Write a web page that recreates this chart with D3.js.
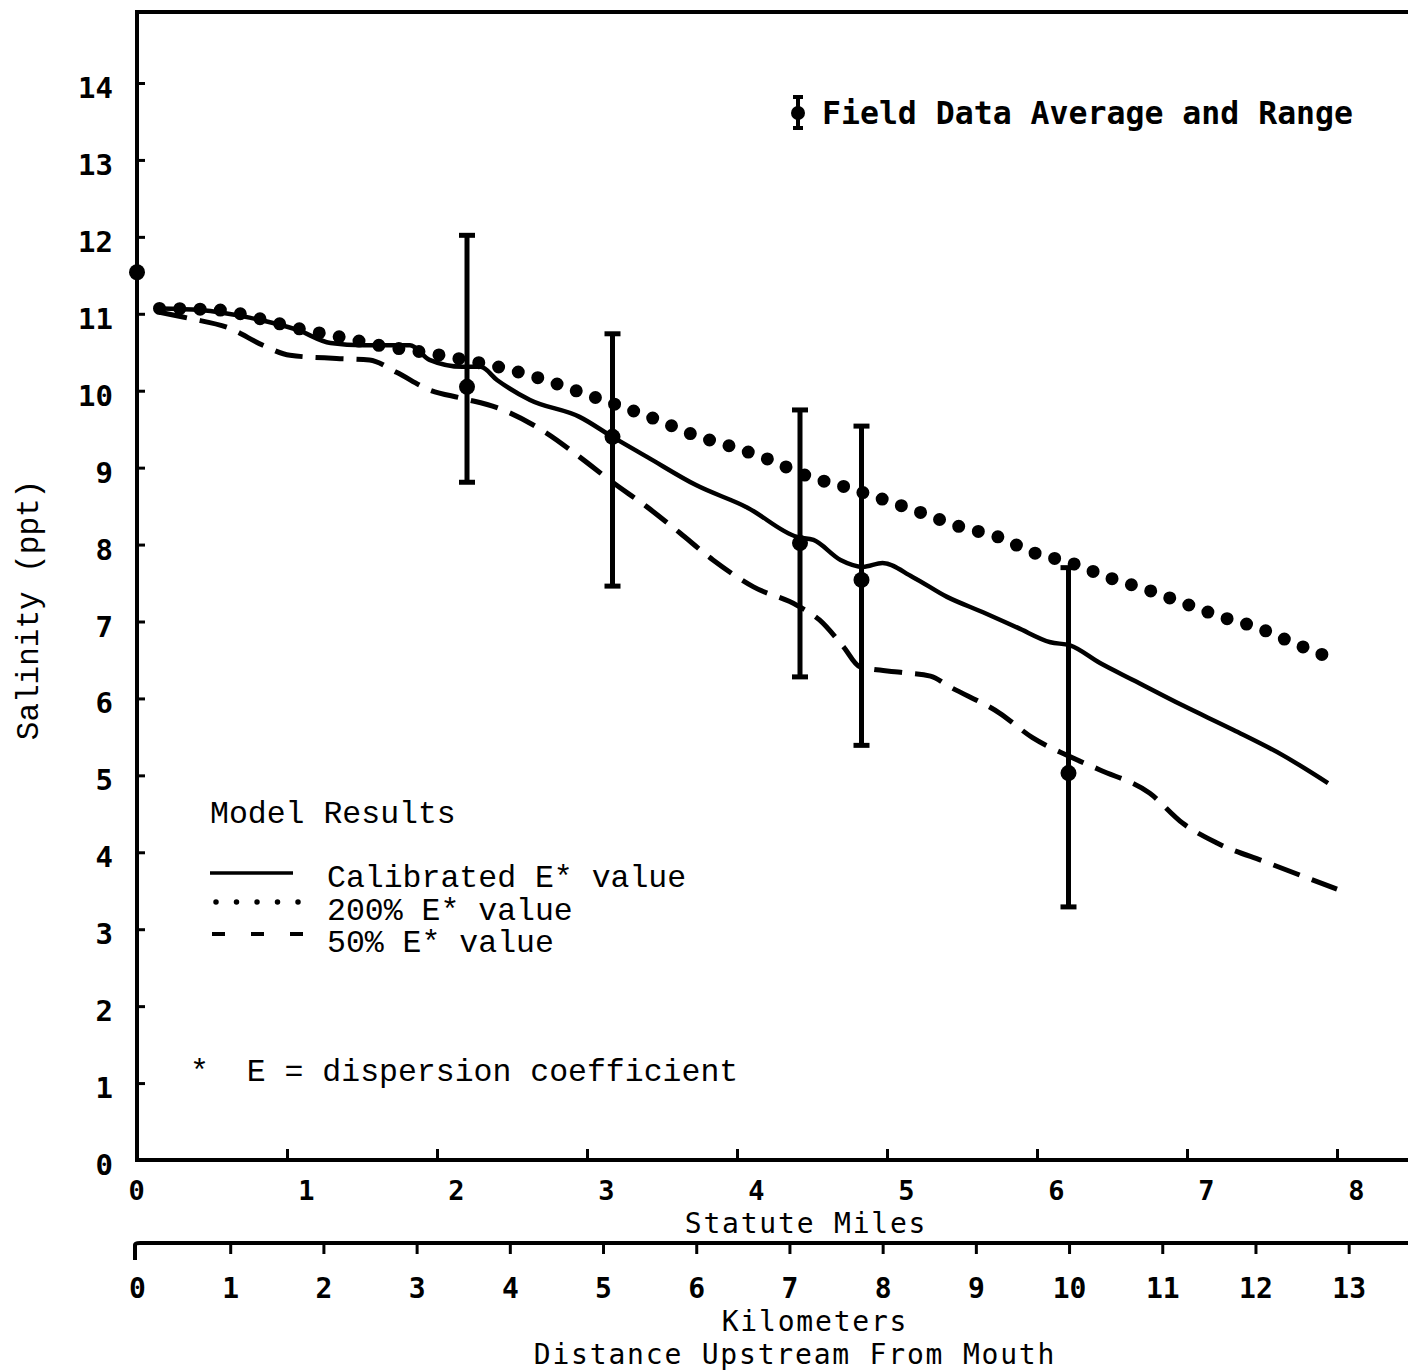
<!DOCTYPE html>
<html>
<head>
<meta charset="utf-8">
<script src="https://cdn.jsdelivr.net/npm/d3@7"></script>
<style>
  html, body { margin: 0; padding: 0; background: #fff; }
  svg { display: block; }
</style>
</head>
<body>
<svg id="chart" width="1408" height="1372"></svg>
<script>
// Salinity profile upstream from the river mouth (statute miles, ppt)

// Model results: calibrated dispersion coefficient
const calibratedMiles = [0.15, 0.42, 0.75, 1.07, 1.29, 1.51, 1.82, 1.95, 2.17, 2.29, 2.40, 2.62, 2.95, 3.17, 3.40, 3.73, 4.07, 4.40, 4.51, 4.69, 4.84, 4.97, 5.17, 5.40, 5.64, 5.87, 6.09, 6.22, 6.42, 6.64, 6.97, 7.31, 7.64, 7.94];
const calibratedSalinity = [11.07, 11.05, 10.95, 10.79, 10.62, 10.59, 10.59, 10.40, 10.31, 10.31, 10.14, 9.88, 9.66, 9.40, 9.14, 8.77, 8.48, 8.10, 8.06, 7.80, 7.71, 7.76, 7.58, 7.32, 7.12, 6.92, 6.73, 6.69, 6.46, 6.24, 5.91, 5.59, 5.26, 4.90];

// Model results: 200% of calibrated E
const doubleEMiles = [0.15, 0.54, 0.81, 1.07, 1.35, 1.64, 1.91, 2.19, 2.47, 2.72, 2.97, 3.22, 3.47, 3.72, 3.97, 4.22, 4.47, 4.72, 4.97, 5.22, 5.49, 5.74, 5.97, 6.23, 6.48, 6.74, 6.99, 7.23, 7.47, 7.71, 7.94];
const doubleESalinity = [11.07, 11.05, 10.94, 10.81, 10.70, 10.58, 10.50, 10.40, 10.28, 10.14, 9.97, 9.80, 9.62, 9.42, 9.27, 9.10, 8.89, 8.75, 8.59, 8.42, 8.23, 8.10, 7.90, 7.76, 7.57, 7.41, 7.23, 7.06, 6.92, 6.72, 6.54];

// Model results: 50% of calibrated E
const halfEMiles = [0.15, 0.35, 0.62, 0.84, 1.02, 1.33, 1.55, 1.73, 1.95, 2.17, 2.40, 2.73, 2.95, 3.17, 3.40, 3.62, 3.84, 4.11, 4.40, 4.55, 4.71, 4.82, 5.09, 5.29, 5.42, 5.75, 5.97, 6.20, 6.42, 6.75, 6.97, 7.20, 7.53, 8.00];
const halfESalinity = [11.02, 10.94, 10.81, 10.59, 10.46, 10.42, 10.40, 10.24, 10.01, 9.90, 9.78, 9.45, 9.14, 8.81, 8.49, 8.15, 7.80, 7.45, 7.21, 7.02, 6.67, 6.41, 6.34, 6.29, 6.15, 5.81, 5.49, 5.26, 5.07, 4.77, 4.38, 4.12, 3.87, 3.52];

// Field data: station average and observed range
const stationMiles = [0, 2.20, 3.17, 4.42, 4.83, 6.21];
const fieldAverage = [11.54, 10.05, 9.40, 8.02, 7.54, 5.03];
const fieldHigh = [null, 12.02, 10.74, 9.75, 9.54, 7.70];
const fieldLow = [null, 8.81, 7.46, 6.28, 5.39, 3.29];

// Axis ticks
const salinityTicks = [0, 1, 2, 3, 4, 5, 6, 7, 8, 9, 10, 11, 12, 13, 14];
const mileTicks = [0, 1, 2, 3, 4, 5, 6, 7, 8];
const kmTicks = [0, 1, 2, 3, 4, 5, 6, 7, 8, 9, 10, 11, 12, 13];

const KM_PER_MILE = 1.609344;

const svg = d3.select("#chart");
const W = 1408;

const x = d3.scaleLinear().domain([0, 8]).range([137, 1337]);
const xKm = d3.scaleLinear().domain([0, 8 * KM_PER_MILE]).range([137, 1337]);
const y = d3.scaleLinear().domain([0, 14]).range([1160, 83]);

const boldFont = "'DejaVu Sans Mono', monospace";
const typeFont = "'Liberation Mono', 'DejaVu Sans Mono', monospace";

// Frame: top border, left axis, two bottom scales
const frame = svg.append("g").attr("stroke", "#000").attr("fill", "none").attr("stroke-linecap", "square");
frame.append("path").attr("stroke-width", 4)
  .attr("d", `M${W},12 L137,12 L137,1160 L${W},1160`);
frame.append("path").attr("stroke-width", 4)
  .attr("d", `M135,1258 L135,1245 Q135,1243 140,1243 L${W},1243`);

// Salinity axis
const yAxis = svg.append("g")
  .attr("transform", "translate(137,0)")
  .call(d3.axisLeft(y).tickValues(salinityTicks).tickSize(-8).tickPadding(24).tickFormat(d3.format("d")));
yAxis.select(".domain").remove();
yAxis.selectAll(".tick line").attr("stroke", "#000").attr("stroke-width", 3);
yAxis.selectAll(".tick text")
  .attr("font-family", boldFont).attr("font-weight", "bold").attr("font-size", 29)
  .attr("fill", "#000").attr("dy", "0.5em");

// Statute miles axis
const mAxis = svg.append("g")
  .attr("transform", "translate(0,1160)")
  .call(d3.axisBottom(x).tickValues(mileTicks).tickSize(-11).tickPadding(21).tickFormat(d3.format("d")));
mAxis.select(".domain").remove();
mAxis.selectAll(".tick line").attr("stroke", "#000").attr("stroke-width", 3);
mAxis.selectAll(".tick text")
  .attr("font-family", boldFont).attr("font-weight", "bold").attr("font-size", 27)
  .attr("fill", "#000").attr("dx", d => d === 0 ? -1 : 19);

// Kilometers axis
const kAxis = svg.append("g")
  .attr("transform", "translate(0,1243)")
  .call(d3.axisBottom(xKm).tickValues(kmTicks).tickSize(11).tickPadding(24).tickFormat(d3.format("d")));
kAxis.select(".domain").remove();
kAxis.selectAll(".tick line").attr("stroke", "#000").attr("stroke-width", 3);
kAxis.selectAll(".tick").filter(d => d === 0).select("line").remove();
kAxis.selectAll(".tick text")
  .attr("font-family", boldFont).attr("font-weight", "bold").attr("font-size", 28)
  .attr("fill", "#000");

// Axis titles
const titles = svg.append("g").attr("fill", "#000");
titles.append("text").attr("x", 806).attr("y", 1233).attr("text-anchor", "middle")
  .attr("font-family", boldFont).attr("font-size", 28).attr("letter-spacing", 1.8).text("Statute Miles");
titles.append("text").attr("x", 815).attr("y", 1331).attr("text-anchor", "middle")
  .attr("font-family", boldFont).attr("font-size", 28).attr("letter-spacing", 1.8).text("Kilometers");
titles.append("text").attr("x", 795).attr("y", 1364).attr("text-anchor", "middle")
  .attr("font-family", boldFont).attr("font-size", 28).attr("letter-spacing", 1.8).text("Distance Upstream From Mouth");
titles.append("text").attr("transform", "translate(38,610) rotate(-90)").attr("text-anchor", "middle")
  .attr("font-family", typeFont).attr("font-size", 31).text("Salinity (ppt)");

// Model curves
const line = d3.line().x(d => x(d[0])).y(d => y(d[1])).curve(d3.curveMonotoneX);
const zipSeries = (xs, ys) => xs.map((v, i) => [v, ys[i]]);

svg.append("path")
  .datum(zipSeries(halfEMiles, halfESalinity))
  .attr("d", line).attr("fill", "none").attr("stroke", "#000")
  .attr("stroke-width", 5).attr("stroke-dasharray", "28 13");

svg.append("path")
  .datum(zipSeries(calibratedMiles, calibratedSalinity))
  .attr("d", line).attr("fill", "none").attr("stroke", "#000")
  .attr("stroke-width", 4.5).attr("stroke-linejoin", "round");

svg.append("path")
  .datum(zipSeries(doubleEMiles, doubleESalinity))
  .attr("d", line).attr("fill", "none").attr("stroke", "#000")
  .attr("stroke-width", 13).attr("stroke-linecap", "round").attr("stroke-dasharray", "0 20.3");

// Field data: range bars with end caps and average dots
const field = stationMiles.map((m, i) => ({ m, avg: fieldAverage[i], hi: fieldHigh[i], lo: fieldLow[i] }));
const bars = svg.append("g").attr("stroke", "#000").attr("fill", "#000");
const ranged = field.filter(d => d.hi !== null);
bars.selectAll("line.range").data(ranged).join("line").attr("class", "range")
  .attr("x1", d => x(d.m)).attr("x2", d => x(d.m))
  .attr("y1", d => y(d.hi)).attr("y2", d => y(d.lo)).attr("stroke-width", 5);
bars.selectAll("line.cap-hi").data(ranged).join("line").attr("class", "cap-hi")
  .attr("x1", d => x(d.m) - 8).attr("x2", d => x(d.m) + 8)
  .attr("y1", d => y(d.hi)).attr("y2", d => y(d.hi)).attr("stroke-width", 5);
bars.selectAll("line.cap-lo").data(ranged).join("line").attr("class", "cap-lo")
  .attr("x1", d => x(d.m) - 8).attr("x2", d => x(d.m) + 8)
  .attr("y1", d => y(d.lo)).attr("y2", d => y(d.lo)).attr("stroke-width", 5);
bars.selectAll("circle").data(field).join("circle")
  .attr("cx", d => x(d.m)).attr("cy", d => y(d.avg)).attr("r", 8).attr("stroke", "none");

// Field data key (top right)
const key = svg.append("g").attr("fill", "#000").attr("stroke", "#000");
key.append("line").attr("x1", 798).attr("x2", 798).attr("y1", 97).attr("y2", 128).attr("stroke-width", 4);
key.append("line").attr("x1", 793).attr("x2", 803).attr("y1", 97).attr("y2", 97).attr("stroke-width", 4);
key.append("line").attr("x1", 793).attr("x2", 803).attr("y1", 128).attr("y2", 128).attr("stroke-width", 4);
key.append("circle").attr("cx", 798).attr("cy", 113).attr("r", 7).attr("stroke", "none");
key.append("text").attr("x", 822).attr("y", 124).attr("stroke", "none")
  .attr("font-family", boldFont).attr("font-weight", "bold").attr("font-size", 31.5)
  .text("Field Data Average and Range");

// Model results key
const leg = svg.append("g").attr("fill", "#000");
leg.append("text").attr("x", 210).attr("y", 823).attr("font-family", typeFont).attr("font-size", 31.5).text("Model Results");
leg.append("line").attr("x1", 210).attr("x2", 293).attr("y1", 873).attr("y2", 873)
  .attr("stroke", "#000").attr("stroke-width", 3.5);
leg.append("line").attr("x1", 216).attr("x2", 300).attr("y1", 902).attr("y2", 902)
  .attr("stroke", "#000").attr("stroke-width", 5.5).attr("stroke-linecap", "round").attr("stroke-dasharray", "0 20.5");
leg.append("line").attr("x1", 212).attr("x2", 304).attr("y1", 934).attr("y2", 934)
  .attr("stroke", "#000").attr("stroke-width", 4).attr("stroke-dasharray", "13 26");
leg.append("text").attr("x", 327).attr("y", 887).attr("font-family", typeFont).attr("font-size", 31.5).text("Calibrated E* value");
leg.append("text").attr("x", 327).attr("y", 920).attr("font-family", typeFont).attr("font-size", 31.5).text("200% E* value");
leg.append("text").attr("x", 327).attr("y", 952).attr("font-family", typeFont).attr("font-size", 31.5).text("50% E* value");
leg.append("text").attr("x", 190).attr("y", 1081).attr("font-family", typeFont).attr("font-size", 31.5)
  .attr("xml:space", "preserve").style("white-space", "pre").text("*  E = dispersion coefficient");
</script>
</body>
</html>
